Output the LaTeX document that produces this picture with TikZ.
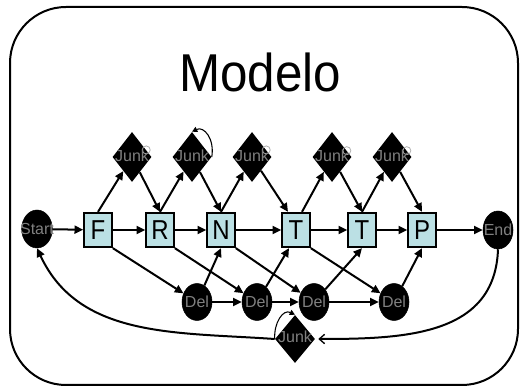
\documentclass[tikz,border=0pt]{standalone}
\usepackage{fontspec}
\usepackage{graphicx}
\setmainfont{Liberation Sans}
\usetikzlibrary{shapes.geometric,arrows.meta,calc}
\definecolor{boxfill}{RGB}{187,224,228}
\definecolor{lblgray}{RGB}{128,128,128}
\newcommand{\stretchtxt}[2]{\scalebox{1}[#1]{#2}}
\begin{document}
\begin{tikzpicture}[x=0.75pt,y=0.75pt,
  frame/.style={draw=black,line width=1.5pt,rounded corners=42pt},
  box/.style={draw=black,fill=boxfill,line width=1.7pt,minimum width=20.5pt,minimum height=25.5pt,inner sep=0pt,font=\fontsize{18}{20}\selectfont},
  blob/.style={ellipse,draw=black,fill=black,inner sep=0pt},
  junk/.style={diamond,fill=black,inner sep=0pt,minimum width=29.25pt,minimum height=37.5pt},
  lbl/.style={anchor=base,text=lblgray,inner sep=0pt,font=\fontsize{12}{14}\selectfont},
  arr/.style={line width=1.5pt,-{Triangle[length=6.5pt,width=6pt]}},
  barb/.style={line width=1.5pt,-{Straight Barb[length=4pt,width=7pt,line width=1pt]}},
  loopst/.style={line width=0.8pt,-{Triangle[length=4pt,width=4pt]}},
  tinyloop/.style={draw=gray!60,line width=0.6pt}]
\useasboundingbox (0,0) rectangle (520,388);
\draw[frame] (10,3) rectangle (518,381);
\node[anchor=base,font=\fontsize{37}{40}\selectfont,inner sep=0pt] (title) at (260,296) {\stretchtxt{1.08}{Modelo}};
% start / end
\node[blob,minimum width=23pt,minimum height=28.5pt] (start) at (37,159) {};
\node[blob,minimum width=22.5pt,minimum height=28.5pt] (end) at (498,158) {};
% boxes
\node[box] (F) at (98,158) {\stretchtxt{1.14}{F}};
\node[box] (R) at (160,158) {\stretchtxt{1.14}{R}};
\node[box] (N) at (221,158) {\stretchtxt{1.14}{N}};
\node[box] (T1) at (296,158) {\stretchtxt{1.14}{T}};
\node[box] (T2) at (362,158) {\stretchtxt{1.14}{T}};
\node[box] (P) at (422,158) {\stretchtxt{1.14}{P}};
% junk top
\node[junk] (J1) at (132,231) {};
\node[junk] (J2) at (192,231) {};
\node[junk] (J3) at (252,231) {};
\node[junk] (J4) at (332,231) {};
\node[junk] (J5) at (392,231) {};
% del
\node[blob,minimum width=22.5pt,minimum height=27.75pt] (D1) at (197,86) {};
\node[blob,minimum width=22.5pt,minimum height=27.75pt] (D2) at (257,86) {};
\node[blob,minimum width=22.5pt,minimum height=27.75pt] (D3) at (314,86) {};
\node[blob,minimum width=22.5pt,minimum height=27.75pt] (D4) at (394,86) {};
% bottom junk
\node[junk,minimum width=30pt,minimum height=36pt] (BJ) at (295,49) {};
% small self loops
\draw[tinyloop] ($(J1.east)!0.28!(J1.north)$) circle (4);
\draw[tinyloop] ($(J3.east)!0.28!(J3.north)$) circle (4);
\draw[tinyloop] ($(J4.east)!0.25!(J4.north)$) circle (4);
\draw[tinyloop] ($(J5.east)!0.25!(J5.north)$) circle (4);
\draw[loopst] (J2.east) .. controls +(3,18) and +(12,6) .. (J2.north);
\draw[loopst] (BJ.west) .. controls +(-1,16) and +(-12,6) .. (BJ.north);
% labels
\node[lbl] (startT) at (37,153) {Start};
\node[lbl] (endT) at (498,152) {End};
\node[lbl] (J1t) at (132,226) {Junk};
\node[lbl] (J2t) at (192,226) {Junk};
\node[lbl] (J3t) at (252,226) {Junk};
\node[lbl] (J4t) at (332,226) {Junk};
\node[lbl] (J5t) at (392,226) {Junk};
\node[lbl] (D1t) at (197,80) {Del};
\node[lbl] (D2t) at (257,80) {Del};
\node[lbl] (D3t) at (314,80) {Del};
\node[lbl] (D4t) at (394,80) {Del};
\node[lbl] (BJt) at (295,45) {Junk};
% main chain
\draw[arr] (start) -- (F);
\draw[arr] (F) -- (R);
\draw[arr] (R) -- (N);
\draw[arr] (N) -- (T1);
\draw[arr] (T1) -- (T2);
\draw[arr] (T2) -- (P);
\draw[arr] (P) -- (end);
% to and from top junk
\draw[arr] (F.north) -- (J1);
\draw[arr] (J1) -- (R.north);
\draw[arr] (R.north) -- (J2);
\draw[arr] (J2) -- (N.north);
\draw[arr] (N.north) -- (J3);
\draw[arr] (J3) -- ($(T1.north)+(-8,0)$);
\draw[arr] ($(T1.north)+(6,0)$) -- (J4);
\draw[arr] (J4) -- (T2.north);
\draw[arr] (T2.north) -- (J5);
\draw[arr] (J5) -- (P.north);
% to del
\draw[arr] (F.south east) -- (D1);
\draw[arr] (R.south east) -- (D2);
\draw[arr] (N.south east) -- (D3);
\draw[arr] (T1.south east) -- (D4);
% from del
\draw[arr] (D1) -- (N.south);
\draw[arr] (D2) -- ($(T1.south)+(-7,0)$);
\draw[arr] (D3) -- (T2.south);
\draw[arr] (D4) -- (P.south);
\draw[arr] (D1) -- (D2);
\draw[arr] (D2) -- (D3);
\draw[arr] (D3) -- (D4);
% return curves
\draw[barb] (end.south) to[out=-92,in=0,looseness=1.1] ($(BJ.east)+(3,0)$);
\draw[arr] (BJ.west) to[out=176,in=-65] (start.south);
\end{tikzpicture}
\end{document}
